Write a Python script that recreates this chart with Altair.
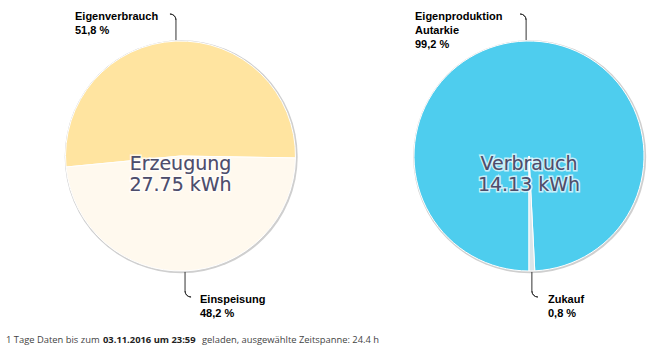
import math
import altair as alt
import pandas as pd

# ---- data ----
gen_labels = ["Eigenverbrauch", "Einspeisung"]
gen_values = [51.8, 48.2]
gen_colors = ["#FFE4A0", "#FFF9EE"]

use_labels = ["Eigenproduktion\nAutarkie", "Zukauf"]
use_values = [99.2, 0.8]
use_colors = ["#4ECDEE", "#DCE5E9"]

center_titles = ["Erzeugung", "Verbrauch"]
center_values = ["27.75 kWh", "14.13 kWh"]

footer_parts = ["1 Tage Daten bis zum", "03.11.2016 um 23:59", "geladen, ausgewählte Zeitspanne: 24.4 h"]

# ---- layout ----
W, H = 655, 352
R = 115
CY = 156
pies = [
    dict(labels=gen_labels, values=gen_values, colors=gen_colors, cx=180.5, start=264.5,
         title=center_titles[0], total=center_values[0]),
    dict(labels=use_labels, values=use_values, colors=use_colors, cx=529, start=180.0,
         title=center_titles[1], total=center_values[1]),
]

def pct(v):
    return f"{v:.1f}".replace(".", ",") + " %"

layers = []
for p in pies:
    df = pd.DataFrame({
        "label": p["labels"],
        "value": p["values"],
        "color": p["colors"],
        "ord": list(range(len(p["values"]))),
    })
    a0 = math.radians(p["start"])
    # shadow ring
    layers.append(
        alt.Chart(df.head(1)).mark_arc(radius=R + 1.5, theta=0, theta2=2 * math.pi,
                                       color="#cfcfcf")
        .encode(x=alt.value(p["cx"] + 0.7), y=alt.value(CY + 0.7))
    )
    layers.append(
        alt.Chart(df).mark_arc(radius=R, stroke="white", strokeWidth=1)
        .encode(
            theta=alt.Theta("value:Q", stack=True,
                            scale=alt.Scale(range=[a0, a0 + 2 * math.pi])),
            order=alt.Order("ord:Q"),
            color=alt.Color("color:N", scale=None),
            x=alt.value(p["cx"]), y=alt.value(CY),
        )
    )
    # center text (halo + fill)
    tdf = pd.DataFrame({"t": [p["title"] + "\n" + p["total"]]})
    for halo in (True, False):
        kw = dict(stroke="white", strokeWidth=3, strokeOpacity=0.7) if halo else {}
        layers.append(
            alt.Chart(tdf).mark_text(font="DejaVu Sans", fontSize=19, lineBreak="\n",
                                     lineHeight=21, align="center", baseline="alphabetic",
                                     color="#4d4d6b", **kw)
            .encode(text="t:N", x=alt.value(p["cx"]), y=alt.value(170))
        )

# ---- data labels with connectors ----
def mid_angle(values, start, i):
    tot = sum(values)
    a = start + 360 * sum(values[:i]) / tot + 180 * values[i] / tot
    return math.radians(a)

label_specs = []
for p in pies:
    for i, (lab, v) in enumerate(zip(p["labels"], p["values"])):
        ang = mid_angle(p["values"], p["start"], i)
        ex = p["cx"] + R * math.sin(ang)
        ey = CY - R * math.cos(ang)
        label_specs.append(dict(text=lab + "\n" + pct(v), ex=ex, ey=ey, top=ey < CY))

conn = "#333333"
for s, (lx, ly) in zip(label_specs, [(75, 20), (200, 303), (415, 20), (548, 303)]):
    ex, ey = s["ex"], s["ey"]
    if s["top"]:
        cyc = 20
        layers.append(alt.Chart(pd.DataFrame({"a": [0]})).mark_rule(color=conn, strokeWidth=1)
                      .encode(x=alt.value(ex), y=alt.value(ey - 1), y2=alt.value(cyc)))
        layers.append(alt.Chart(pd.DataFrame({"a": [0]})).mark_arc(
            radius=6, radius2=6, theta=0, theta2=math.pi / 2, fillOpacity=0,
            stroke=conn, strokeWidth=1)
            .encode(x=alt.value(ex - 6), y=alt.value(cyc)))
    else:
        cyc = 291
        layers.append(alt.Chart(pd.DataFrame({"a": [0]})).mark_rule(color=conn, strokeWidth=1)
                      .encode(x=alt.value(ex), y=alt.value(ey + 1), y2=alt.value(cyc)))
        layers.append(alt.Chart(pd.DataFrame({"a": [0]})).mark_arc(
            radius=6, radius2=6, theta=math.pi, theta2=1.5 * math.pi, fillOpacity=0,
            stroke=conn, strokeWidth=1)
            .encode(x=alt.value(ex + 6), y=alt.value(cyc)))
    layers.append(
        alt.Chart(pd.DataFrame({"t": [s["text"]]})).mark_text(
            font="Liberation Sans", fontSize=11, fontWeight="bold", lineBreak="\n",
            lineHeight=14, align="left", baseline="alphabetic", color="#000000")
        .encode(text="t:N", x=alt.value(lx), y=alt.value(ly))
    )

# ---- footer ----
for txt, fx, bold in zip(footer_parts, [6, 103, 202], [False, True, False]):
    layers.append(
        alt.Chart(pd.DataFrame({"t": [txt]})).mark_text(
            font="Open Sans", fontSize=9.4, fontWeight="bold" if bold else "normal",
            align="left", baseline="alphabetic", color="#222222" if bold else "#444444")
        .encode(text="t:N", x=alt.value(fx), y=alt.value(342.5))
    )

chart = (
    alt.layer(*layers)
    .resolve_scale(theta="independent")
    .properties(width=W, height=H, padding=0, autosize="none", background="white")
    .configure_view(strokeWidth=0)
)

chart.save("out.html", embed_options={"renderer": "svg", "actions": False})
